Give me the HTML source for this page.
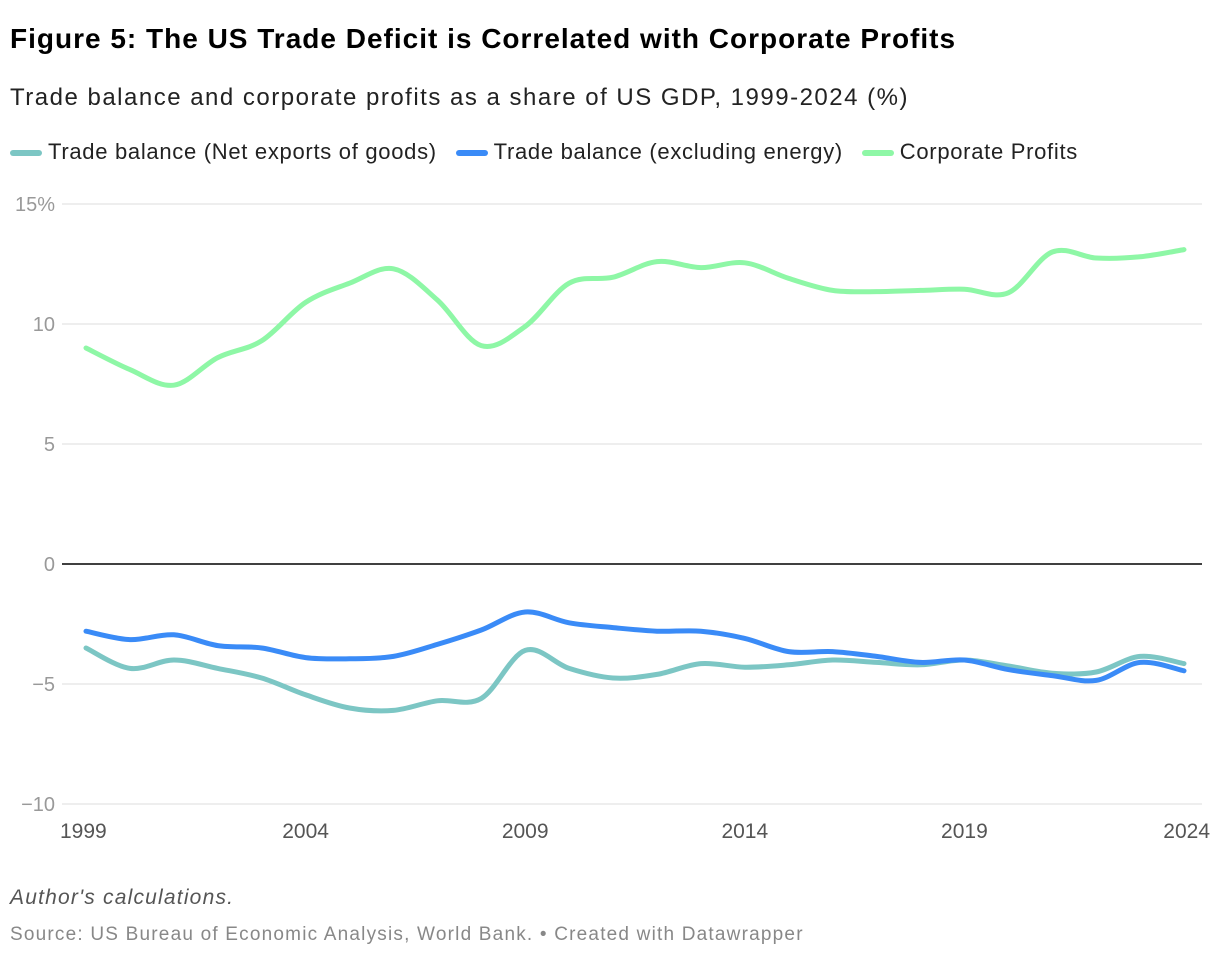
<!DOCTYPE html>
<html><head><meta charset="utf-8"><style>
body{margin:0;background:#fff;font-family:"Liberation Sans",sans-serif;}
#wrap{position:relative;width:1220px;height:958px;overflow:hidden}
.t{position:absolute;white-space:nowrap}
</style></head><body><div id="wrap">
<div class="t" style="left:10px;top:23px;font-size:28px;letter-spacing:1px;font-weight:bold;color:#000">Figure 5: The US Trade Deficit is Correlated with Corporate Profits</div>
<div class="t" style="left:10px;top:84px;font-size:24px;letter-spacing:1.5px;color:#222">Trade balance and corporate profits as a share of US GDP, 1999-2024 (%)</div>
<div class="t" style="left:10px;top:139px;font-size:22px;letter-spacing:0.7px;color:#222">
<span><span style="display:inline-block;width:32px;height:6px;border-radius:3px;background:#7cc6c4;vertical-align:middle;margin-right:6px"></span>Trade balance (Net exports of goods)</span>
<span style="margin-left:12px"><span style="display:inline-block;width:32px;height:6px;border-radius:3px;background:#3a8bf7;vertical-align:middle;margin-right:6px"></span>Trade balance (excluding energy)</span>
<span style="margin-left:12px"><span style="display:inline-block;width:32px;height:6px;border-radius:3px;background:#8ef7a6;vertical-align:middle;margin-right:6px"></span>Corporate Profits</span>
</div>
<svg id="chart" width="1220" height="958" style="position:absolute;left:0;top:0"></svg>
<div class="t" style="left:10px;top:886px;font-size:21px;letter-spacing:1.2px;font-style:italic;color:#555">Author's calculations.</div>
<div class="t" style="left:10px;top:924px;font-size:19px;letter-spacing:1.2px;color:#888">Source: US Bureau of Economic Analysis, World Bank. • Created with Datawrapper</div>
</div>
<script>
const years=[1999,2000,2001,2002,2003,2004,2005,2006,2007,2008,2009,2010,2011,2012,2013,2014,2015,2016,2017,2018,2019,2020,2021,2022,2023,2024];
const profits=[9.0,8.1,7.45,8.6,9.3,10.9,11.7,12.3,11.0,9.1,9.9,11.7,11.95,12.6,12.35,12.55,11.9,11.4,11.35,11.4,11.45,11.3,13.0,12.75,12.8,13.1];
const tradeGoods=[-3.5,-4.35,-4.0,-4.35,-4.75,-5.45,-6.0,-6.1,-5.7,-5.6,-3.6,-4.35,-4.75,-4.6,-4.15,-4.3,-4.2,-4.0,-4.1,-4.2,-4.0,-4.25,-4.55,-4.5,-3.85,-4.15];
const tradeExEnergy=[-2.8,-3.15,-2.95,-3.4,-3.5,-3.9,-3.95,-3.85,-3.35,-2.75,-2.0,-2.45,-2.65,-2.8,-2.8,-3.1,-3.65,-3.65,-3.85,-4.1,-4.0,-4.4,-4.65,-4.85,-4.1,-4.45];
const yTicks=[15,10,5,0,-5,-10];
const yTickLabels=["15%","10","5","0","−5","−10"];
const xTicks=[1999,2004,2009,2014,2019,2024];
const NS="http://www.w3.org/2000/svg";
const svg=document.getElementById('chart');
const X=y=>86+(y-1999)*(1184-86)/25;
const Y=v=>564-v*24;
function mk(t,a){const e=document.createElementNS(NS,t);for(const k in a)e.setAttribute(k,a[k]);svg.appendChild(e);return e;}
yTicks.forEach((v,i)=>{
 const l=mk('line',{x1:62,x2:1202,y1:Y(v),y2:Y(v),stroke:v===0?'#000':'#ddd','stroke-width':v===0?1.5:1});
 
 
 const t=mk('text',{x:55,y:Y(v)+7,'text-anchor':'end','font-size':20,fill:'#999','font-family':'Liberation Sans, sans-serif'});
 t.textContent=yTickLabels[i];
 
 
});
xTicks.forEach((yr,i)=>{
 const anchor=i===0?'start':(i===xTicks.length-1?'end':'middle');
 const t=mk('text',{x:X(yr)+(i===0?-26:(i===xTicks.length-1?26:0)),y:838,'text-anchor':anchor,'font-size':21,fill:'#555','font-family':'Liberation Sans, sans-serif'});
 t.textContent=yr;
 
 
});
function path(vals){
 const p=vals.map((v,i)=>[X(years[i]),Y(v)]);
 let d='M'+p[0][0]+','+p[0][1];
 for(let i=0;i<p.length-1;i++){
  const p0=p[Math.max(0,i-1)],p1=p[i],p2=p[i+1],p3=p[Math.min(p.length-1,i+2)];
  const k=1/6;
  d+=` C${p1[0]+(p2[0]-p0[0])*k},${p1[1]+(p2[1]-p0[1])*k} ${p2[0]-(p3[0]-p1[0])*k},${p2[1]-(p3[1]-p1[1])*k} ${p2[0]},${p2[1]}`;
 }
 return d;
}
[[profits,'#8ef7a6','line-corporate-profits'],[tradeGoods,'#7cc6c4','line-trade-goods'],[tradeExEnergy,'#3a8bf7','line-trade-ex-energy']].forEach(s=>{
 const e=mk('path',{d:path(s[0]),fill:'none',stroke:s[1],'stroke-width':5,'stroke-linecap':'round','stroke-linejoin':'round'});
 
 
});
</script></body></html>
